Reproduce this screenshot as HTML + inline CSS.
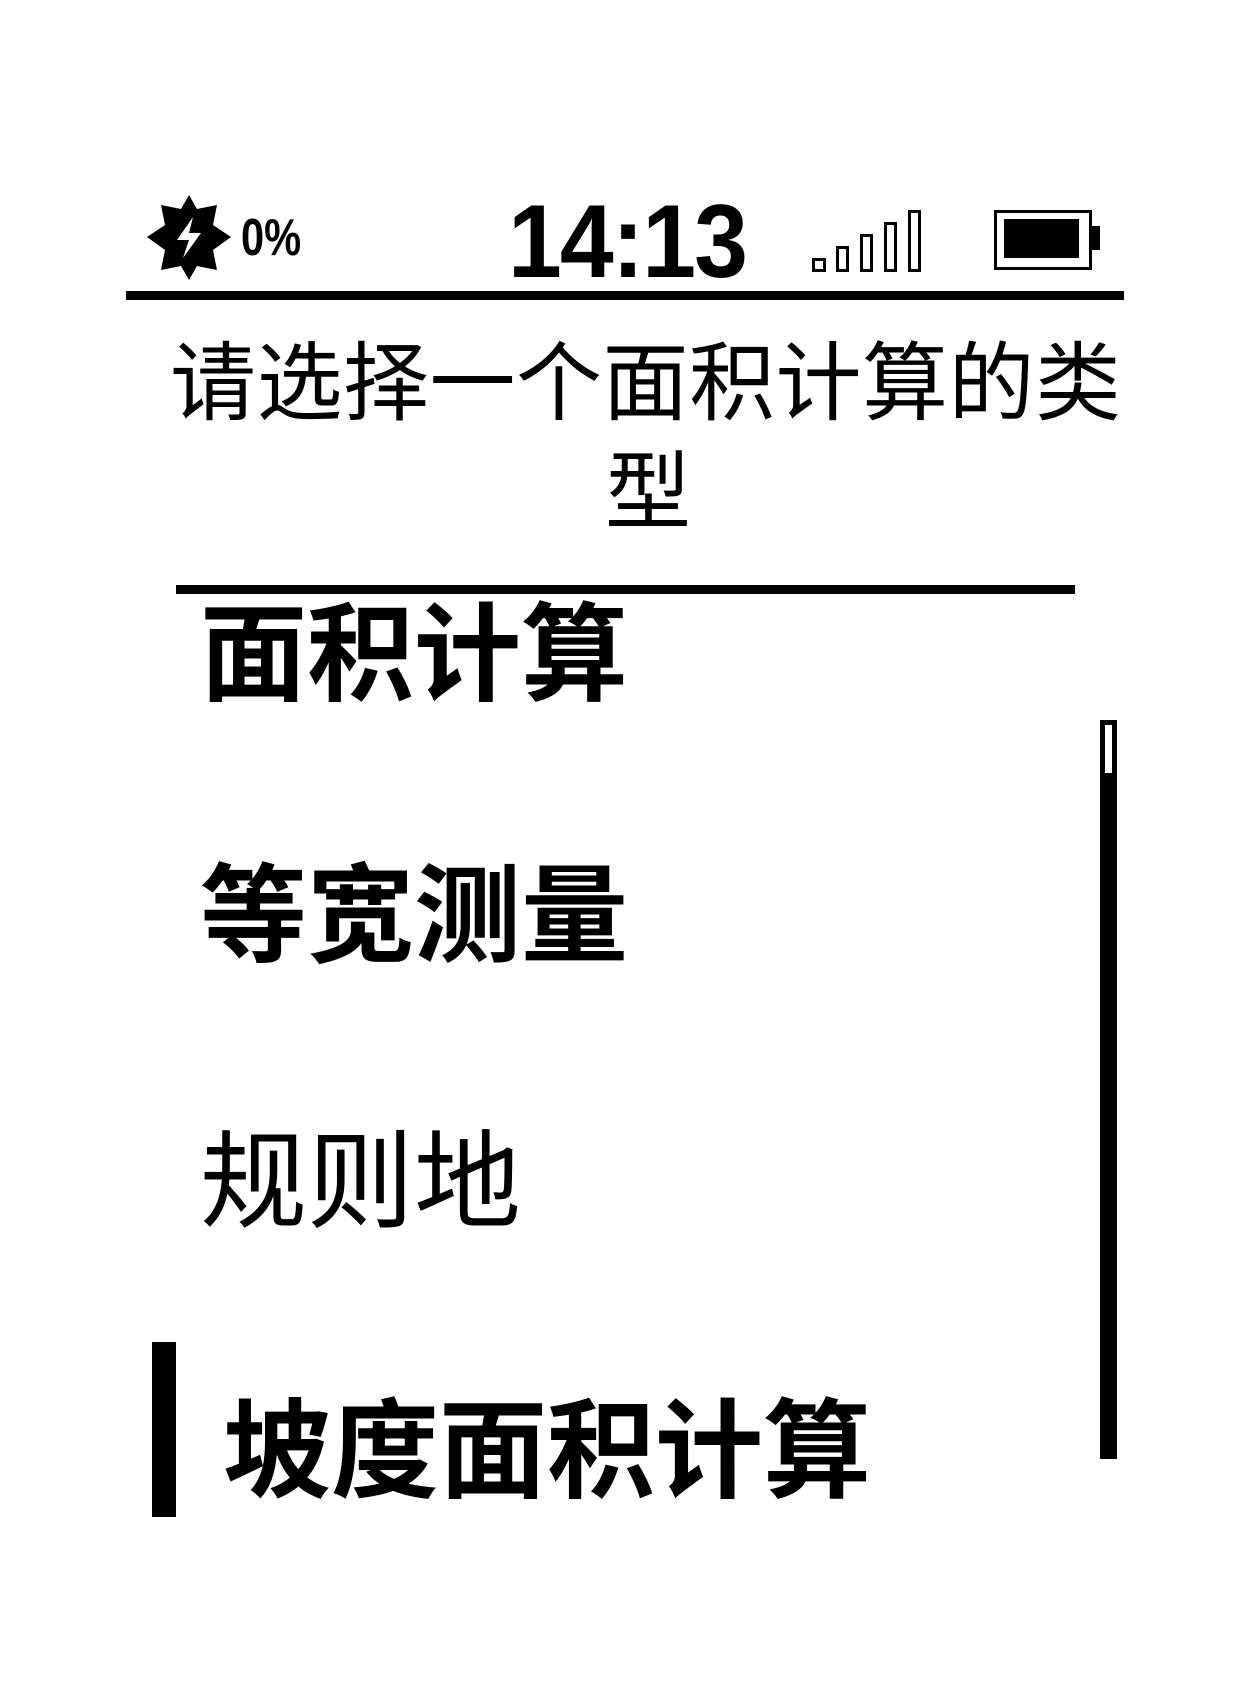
<!DOCTYPE html>
<html><head><meta charset="utf-8"><style>
html,body{margin:0;padding:0;background:#fff;}
body{width:1251px;height:1693px;position:relative;overflow:hidden;font-family:"Liberation Sans","Noto Sans CJK SC",sans-serif;color:#000;}
.a{position:absolute;}
.t{position:absolute;line-height:1;white-space:nowrap;font-family:"Liberation Sans","Noto Sans CJK SC",sans-serif;}
.b{background:#000;position:absolute;}
</style></head><body>
<svg class="a" style="left:147px;top:195px" width="84" height="85" viewBox="0 0 84 85">
<polygon fill="#000" points="42,0 50,14 70,10 66,30 84,42 66,55 70,75 50,71 42,85 34,71 14,75 18,55 0,42 18,30 14,10 34,14"/>
<polygon fill="#fff" points="46,22 30,45 42,45 36,63 54,38 42,38"/>
</svg>
<div class="t" style="left:241px;top:212px;font-size:52px;font-weight:bold;transform:scaleX(0.8);transform-origin:left top;">0%</div>
<div class="t" style="left:508px;top:190px;font-size:104px;font-weight:bold;transform:scaleX(0.93);transform-origin:left top;letter-spacing:-2px;">14:13</div>
<div class="a" style="left:812px;top:258px;width:8px;height:8px;border:3px solid #000;"></div>
<div class="a" style="left:836px;top:246px;width:7px;height:20px;border:3px solid #000;"></div>
<div class="a" style="left:860px;top:234px;width:7px;height:32px;border:3px solid #000;"></div>
<div class="a" style="left:884px;top:222px;width:7px;height:44px;border:3px solid #000;"></div>
<div class="a" style="left:908px;top:210px;width:7px;height:56px;border:3px solid #000;"></div>
<div class="a" style="left:994px;top:210px;width:92px;height:54px;border:3px solid #000;"></div>
<div class="b" style="left:1004px;top:219px;width:75px;height:39px;"></div>
<div class="b" style="left:1092px;top:226px;width:8px;height:24px;"></div>
<div class="b" style="left:126px;top:291px;width:998px;height:9px;"></div>
<div class="t" style="left:170px;top:341px;font-size:86px;letter-spacing:0.5px;">请选择一个面积计算的类</div>
<div class="t" style="left:605px;top:450px;font-size:86px;">型</div>
<div class="b" style="left:176px;top:585px;width:899px;height:9px;"></div>
<div class="t" style="left:200px;top:602px;font-size:107px;font-weight:bold;">面积计算</div>
<div class="t" style="left:200px;top:863px;font-size:107px;font-weight:bold;">等宽测量</div>
<div class="t" style="left:200px;top:1129px;font-size:107px;">规则地</div>
<div class="b" style="left:152px;top:1342px;width:24px;height:175px;"></div>
<div class="t" style="left:223px;top:1398px;font-size:108px;font-weight:bold;">坡度面积计算</div>
<div class="b" style="left:1100px;top:720px;width:17px;height:739px;"></div>
<div class="a" style="left:1105px;top:725px;width:7px;height:48px;background:#fff;"></div>
</body></html>
